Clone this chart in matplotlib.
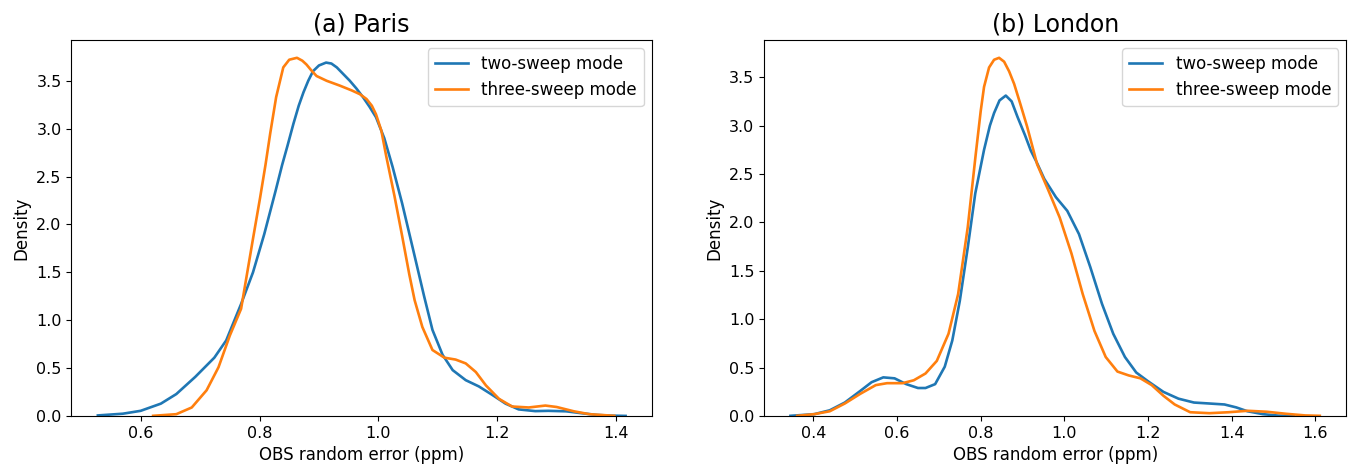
import matplotlib
matplotlib.use("Agg")
import matplotlib.pyplot as plt

# ---- Data ----
paris_two_x = [0.528, 0.570, 0.600, 0.634, 0.660, 0.692, 0.724, 0.744, 0.769, 0.789,
               0.808, 0.827, 0.838, 0.847, 0.857, 0.866, 0.874, 0.882, 0.890, 0.900,
               0.912, 0.921, 0.930, 0.941, 0.952, 0.963, 0.974, 0.985, 0.996, 1.010,
               1.024, 1.040, 1.058, 1.077, 1.091, 1.108, 1.125, 1.147, 1.169, 1.192,
               1.214, 1.236, 1.264, 1.286, 1.316, 1.342, 1.368, 1.390, 1.416]
paris_two_y = [0.007, 0.025, 0.055, 0.13, 0.23, 0.41, 0.61, 0.79, 1.17, 1.50,
               1.90, 2.35, 2.62, 2.82, 3.05, 3.24, 3.38, 3.50, 3.60, 3.66,
               3.69, 3.68, 3.64, 3.57, 3.50, 3.42, 3.33, 3.23, 3.12, 2.90,
               2.60, 2.22, 1.75, 1.25, 0.90, 0.64, 0.48, 0.375, 0.31, 0.22,
               0.13, 0.07, 0.052, 0.055, 0.05, 0.03, 0.012, 0.005, 0.002]

paris_three_x = [0.621, 0.660, 0.686, 0.711, 0.731, 0.750, 0.769, 0.789, 0.801, 0.810,
                 0.818, 0.828, 0.840, 0.850, 0.863, 0.872, 0.879, 0.887, 0.896, 0.913,
                 0.935, 0.955, 0.969, 0.980, 0.989, 0.996, 1.005, 1.013, 1.027, 1.040,
                 1.052, 1.061, 1.074, 1.091, 1.111, 1.130, 1.147, 1.164, 1.181, 1.203,
                 1.225, 1.253, 1.281, 1.300, 1.329, 1.355, 1.397]
paris_three_y = [0.003, 0.02, 0.09, 0.27, 0.51, 0.84, 1.12, 1.85, 2.28, 2.62,
                 2.95, 3.33, 3.64, 3.72, 3.74, 3.71, 3.67, 3.61, 3.55, 3.50,
                 3.45, 3.40, 3.36, 3.31, 3.24, 3.15, 2.98, 2.72, 2.30, 1.88,
                 1.48, 1.21, 0.93, 0.69, 0.61, 0.59, 0.55, 0.46, 0.32, 0.18,
                 0.10, 0.09, 0.11, 0.095, 0.05, 0.02, 0.003]

london_two_x = [0.345, 0.402, 0.439, 0.475, 0.512, 0.539, 0.567, 0.594, 0.622, 0.650,
                0.668, 0.691, 0.714, 0.732, 0.750, 0.769, 0.787, 0.808, 0.822, 0.832,
                0.845, 0.860, 0.874, 0.888, 0.906, 0.920, 0.934, 0.952, 0.980, 1.007,
                1.035, 1.062, 1.090, 1.117, 1.145, 1.172, 1.200, 1.237, 1.273, 1.310,
                1.347, 1.383, 1.411, 1.438, 1.475, 1.512, 1.549]
london_two_y = [0.003, 0.02, 0.06, 0.14, 0.26, 0.35, 0.40, 0.39, 0.33, 0.29,
                0.29, 0.33, 0.51, 0.78, 1.19, 1.74, 2.30, 2.75, 3.00, 3.13,
                3.26, 3.31, 3.25, 3.09, 2.90, 2.74, 2.62, 2.45, 2.26, 2.12,
                1.88, 1.54, 1.16, 0.85, 0.61, 0.45, 0.36, 0.25, 0.18, 0.14,
                0.13, 0.12, 0.09, 0.05, 0.02, 0.005, 0.0]

london_three_x = [0.361, 0.402, 0.439, 0.475, 0.512, 0.549, 0.576, 0.613, 0.640, 0.668,
                  0.695, 0.723, 0.746, 0.769, 0.788, 0.800, 0.808, 0.820, 0.832, 0.844,
                  0.856, 0.868, 0.880, 0.895, 0.911, 0.935, 0.961, 0.989, 1.017, 1.044,
                  1.072, 1.099, 1.127, 1.154, 1.182, 1.209, 1.237, 1.264, 1.301, 1.347,
                  1.393, 1.438, 1.484, 1.530, 1.576, 1.611]
london_three_y = [0.003, 0.02, 0.05, 0.13, 0.23, 0.32, 0.34, 0.34, 0.37, 0.44,
                  0.57, 0.85, 1.26, 1.95, 2.70, 3.15, 3.40, 3.60, 3.68, 3.70,
                  3.66, 3.56, 3.43, 3.22, 2.99, 2.60, 2.34, 2.05, 1.68, 1.26,
                  0.88, 0.61, 0.46, 0.42, 0.39, 0.32, 0.21, 0.12, 0.04, 0.03,
                  0.04, 0.055, 0.045, 0.024, 0.007, 0.003]

titles = ["(a) Paris", "(b) London"]
series_labels = ["two-sweep mode", "three-sweep mode"]
xlabel = "OBS random error (ppm)"
ylabel = "Density"
paris_xticks = [0.6, 0.8, 1.0, 1.2, 1.4]
london_xticks = [0.4, 0.6, 0.8, 1.0, 1.2, 1.4, 1.6]
yticks = [0.0, 0.5, 1.0, 1.5, 2.0, 2.5, 3.0, 3.5]

blue = "#1f77b4"
orange = "#ff7f0e"

fig = plt.figure(figsize=(13.51, 4.75), dpi=100)
ax1 = fig.add_axes([0.0529, 0.124, 0.4297, 0.792])
ax2 = fig.add_axes([0.5655, 0.124, 0.4310, 0.792])

panels = [
    (ax1, paris_two_x, paris_two_y, paris_three_x, paris_three_y, paris_xticks, titles[0]),
    (ax2, london_two_x, london_two_y, london_three_x, london_three_y, london_xticks, titles[1]),
]

for ax, x2, y2, x3, y3, xt, title in panels:
    ax.plot(x2, y2, color=blue, lw=1.9, label=series_labels[0],
            solid_joinstyle="round", antialiased=True)
    ax.plot(x3, y3, color=orange, lw=1.9, label=series_labels[1],
            solid_joinstyle="round", antialiased=True)
    ax.set_xticks(xt)
    ax.set_yticks(yticks)
    ax.tick_params(labelsize=11.5)
    ax.set_ylim(0, None)
    ax.margins(x=0.05)
    ax.set_title(title, fontsize=17)
    ax.set_xlabel(xlabel, fontsize=12)
    ax.set_ylabel(ylabel, fontsize=12)
    ax.legend(loc="upper right", fontsize=12)

fig.savefig("out.png", dpi=100)
